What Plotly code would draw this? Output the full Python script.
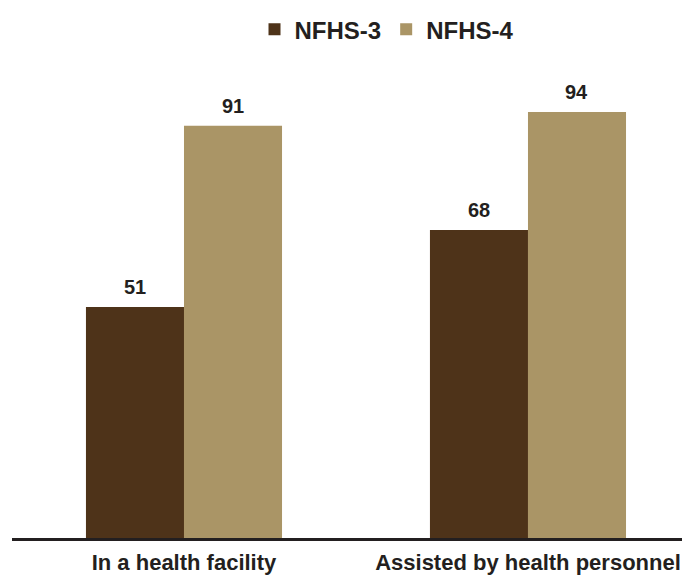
import plotly.graph_objects as go

categories = ["In a health facility", "Assisted by health personnel"]
series_names = ["NFHS-3", "NFHS-4"]
nfhs3 = [51, 68]
nfhs4 = [91, 94]
colors = ["#4E3319", "#AA9566"]

FONT = "Liberation Sans, Arial, sans-serif"
TXT = "#231F20"

fig = go.Figure()
for name, vals, col in zip(series_names, [nfhs3, nfhs4], colors):
    fig.add_trace(go.Bar(
        x=categories, y=vals, name="<b>%s</b>" % name,
        marker=dict(color=col, line=dict(width=0)),
    ))

# value labels above bars
for i, vals in enumerate([nfhs3, nfhs4]):
    for j, v in enumerate(vals):
        fig.add_annotation(
            x=j, y=v, xref="x", yref="y", text="<b>%d</b>" % v, showarrow=False,
            yanchor="bottom", yshift=7, xshift=(-49 if i == 0 else 49),
            font=dict(family=FONT, size=20, color=TXT),
        )

# the page body has an 8px margin, so the figure is sized to fit the window
fig.update_layout(
    width=682, height=569,
    margin=dict(l=4, r=0, t=52, b=39, autoexpand=False),
    plot_bgcolor="white", paper_bgcolor="white",
    barmode="group", bargap=0.43, bargroupgap=0,
    font=dict(family=FONT, color=TXT),
    showlegend=True,
    legend=dict(orientation="h", x=0.555, xanchor="center", xref="container",
                y=0.962, yanchor="middle", yref="container",
                font=dict(size=24, color=TXT, family=FONT),
                itemwidth=30, traceorder="normal"),
    xaxis=dict(range=[-0.5, 1.471], showgrid=False, showline=True, linecolor=TXT,
               linewidth=3, ticks="", tickfont=dict(size=22, color=TXT, family=FONT),
               ticklabelstandoff=3, automargin=False,
               tickvals=[0, 1], ticktext=["<b>%s</b>" % c for c in categories]),
    yaxis=dict(range=[0, 105.5], visible=False),
)

fig.write_html("out.html")
